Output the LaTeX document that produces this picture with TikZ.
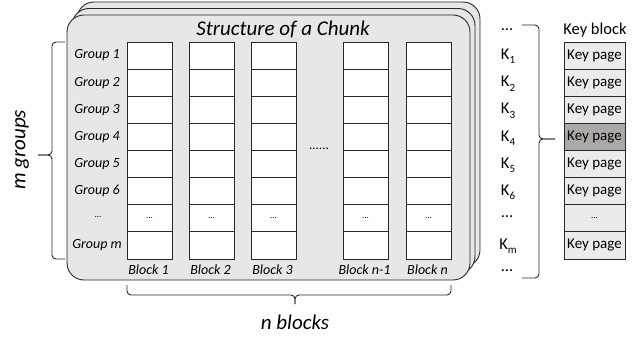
\documentclass[tikz,border=0pt]{standalone}
\usepackage{fontspec}
\setmainfont{Carlito}
\definecolor{cardgray}{RGB}{231,231,231}
\definecolor{keygray}{RGB}{235,235,235}
\definecolor{keydark}{RGB}{172,168,166}
\definecolor{linec}{RGB}{40,40,40}
\newcommand{\ksub}[1]{\raisebox{-0.55ex}{\fontsize{11}{11}\selectfont #1}}
\begin{document}
\begin{tikzpicture}[x=1pt,y=-1pt,
  card/.style={draw=linec, line width=0.9pt, fill=cardgray, rounded corners=17pt},
  cell/.style={draw=linec, line width=0.9pt, fill=white, minimum width=45pt, minimum height=27.125pt, inner sep=0pt, font=\fontsize{9}{10}\selectfont},
  keycell/.style={draw=linec, line width=0.9pt, fill=keygray, minimum width=61pt, minimum height=27.125pt, inner sep=0pt, font=\fontsize{15}{17}\selectfont},
  grp/.style={font=\fontsize{14}{16}\selectfont\itshape, inner sep=0pt},
  grpdots/.style={font=\fontsize{9}{10}\selectfont, inner sep=0pt},
  blk/.style={font=\fontsize{14}{16}\selectfont\itshape, inner sep=0pt},
  klab/.style={font=\fontsize{16.5}{18}\selectfont, inner sep=0pt},
  bigital/.style={font=\fontsize{21}{24}\selectfont\itshape, inner sep=0pt},
  bracec/.style={draw=linec, line width=0.9pt, rounded corners=4pt}]
\useasboundingbox (0,0) rectangle (640,337);
% stacked chunk cards
\draw[card] (77,2) rectangle (480,267);
\draw[card] (72,8.5) rectangle (475,273.5);
\draw[card] (67,15) rectangle (470,280);
\node[bigital] (title) at (283,29) {Structure of a Chunk};
% block columns
\foreach \c/\x/\lab in {1/149.5/Block 1,2/211.5/Block 2,3/273.5/Block 3,4/365.5/Block n-1,5/428.5/Block n}{
  \foreach \r in {1,...,8}{
    \pgfmathsetmacro\yy{55.56+27.125*(\r-1)}
    \ifnum\r=7
      \node[cell] (b\c-\r) at (\x,\yy) {...};
    \else
      \node[cell] (b\c-\r) at (\x,\yy) {};
    \fi
  }
  \node[blk] (bl\c) at (\x-1,269.5) {\lab};
}
% group labels
\foreach \r/\t in {1/Group 1,2/Group 2,3/Group 3,4/Group 4,5/Group 5,6/Group 6,8/Group m}{
  \pgfmathsetmacro\yy{55.56+27.125*(\r-1)}
  \node[grp] (g\r) at (97,\yy) {\t};
}
\node[grpdots] (g7) at (98,217) {...};
\node[font=\fontsize{13}{15}\selectfont, inner sep=0pt] (hdots) at (319,149) {......};
% m groups brace
\coordinate (lbt) at (65,42);
\coordinate (lbb) at (65,259);
\coordinate (lbtip) at (38,155);
\draw[bracec] (lbt) -- (52,42) -- (52,155) -- (lbtip);
\draw[bracec] (lbb) -- (52,259) -- (52,155) -- (lbtip);
\node[bigital, rotate=90] (mg) at (22,150) {m groups};
% n blocks brace
\coordinate (bbl) at (127,285);
\coordinate (bbr) at (451,285);
\coordinate (bbtip) at (295,304);
\draw[bracec] (bbl) -- (127,295) -- (295,295) -- (bbtip);
\draw[bracec] (bbr) -- (451,295) -- (295,295) -- (bbtip);
\node[bigital] (nb) at (295,322) {n blocks};
% K labels
\node[klab] (kt) at (507,30) {...};
\foreach \r/\t in {1/1,2/2,3/3,4/4,5/5,6/6,8/m}{
  \pgfmathsetmacro\yy{56.5+27.125*(\r-1)}
  \node[klab] (k\r) at (508,\yy) {K\ksub{\t}};
}
\node[klab] (k7) at (507,217) {...};
\node[klab] (kb) at (507,271) {...};
% right brace
\coordinate (rbt) at (522,25);
\coordinate (rbb) at (522,278);
\coordinate (rbtip) at (555,139);
\draw[bracec] (rbt) -- (539,25) -- (539,139) -- (rbtip);
\draw[bracec] (rbb) -- (539,278) -- (539,139) -- (rbtip);
% key block
\node[klab] (kbl) at (595,30) {Key block};
\foreach \r in {1,...,8}{
  \pgfmathsetmacro\yy{55.56+27.125*(\r-1)}
  \ifnum\r=7
    \node[keycell, font=\fontsize{9}{10}\selectfont] (kp\r) at (594.5,\yy) {...};
  \else\ifnum\r=4
    \node[keycell, fill=keydark] (kp\r) at (594.5,\yy) {Key page};
  \else
    \node[keycell] (kp\r) at (594.5,\yy) {Key page};
  \fi\fi
}
\end{tikzpicture}
\end{document}
